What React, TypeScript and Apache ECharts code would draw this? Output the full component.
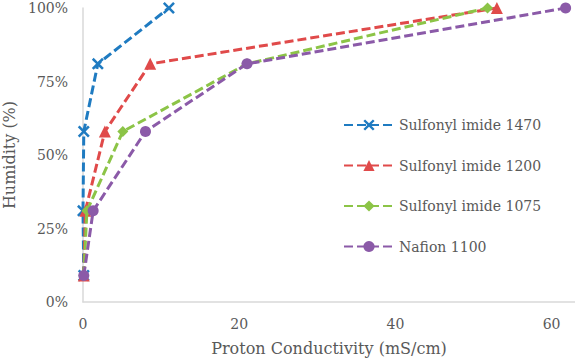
import React, { useEffect, useRef } from "react";
import * as echarts from "echarts";

const seriesNames = ["Sulfonyl imide 1470", "Sulfonyl imide 1200", "Sulfonyl imide 1075", "Nafion 1100"];
const humidity = [9, 31, 58, 81, 100];
const cond1470 = [0.1, 0.0, 0.1, 1.9, 11.0];
const cond1200 = [0.1, 0.3, 2.8, 8.6, 53.0];
const cond1075 = [0.1, 0.5, 5.1, 21.0, 51.8];
const condNafion = [0.1, 1.3, 8.0, 21.0, 61.8];
const colors = ["#1f7bc1", "#e04a4a", "#8cc447", "#8b5aa8"];
const xTicks = [0, 20, 40, 60];

const X_PATH = "path://M0,3 L3,0 L10,7 L17,0 L20,3 L13,10 L20,17 L17,20 L10,13 L3,20 L0,17 L7,10 Z";
const FONT = "DejaVu Serif";
const TXT = "#595959";

export default function App() {
  const ref = useRef<HTMLDivElement>(null);
  useEffect(() => {
    const chart = echarts.init(ref.current!, null, { renderer: "svg" });
    const conds = [cond1470, cond1200, cond1075, condNafion];
    const symbols = [X_PATH, "triangle", "diamond", "circle"];
    const sizes = [12, 12, 11, 11];
    chart.setOption({
      animation: false,
      textStyle: { fontFamily: FONT },
      grid: { left: 83, right: 0, top: 8, bottom: 59, containLabel: false, outerBoundsMode: "none" },
      xAxis: {
        type: "value",
        min: 0,
        max: 63,
        interval: 20,
        splitLine: { show: false },
        axisTick: { show: false },
        axisLine: { lineStyle: { color: "#d9d9d9", width: 1.5 } },
        axisLabel: {
          color: TXT,
          fontFamily: FONT,
          fontSize: 14,
          margin: 15,
          formatter: (v: number) => (xTicks.includes(v) ? String(v) : ""),
        },
        name: "Proton Conductivity (mS/cm)",
        nameLocation: "middle",
        nameGap: 38,
        nameTextStyle: { color: TXT, fontFamily: FONT, fontSize: 16 },
      },
      yAxis: {
        type: "value",
        min: 0,
        max: 100,
        interval: 25,
        splitLine: { show: false },
        axisTick: { show: false },
        axisLine: { show: true, lineStyle: { color: "#d9d9d9", width: 1.5 } },
        axisLabel: { color: TXT, fontFamily: FONT, fontSize: 14, margin: 15, formatter: "{value}%" },
        name: "Humidity (%)",
        nameLocation: "middle",
        nameGap: 60,
        nameTextStyle: { color: TXT, fontFamily: FONT, fontSize: 16 },
      },
      legend: {
        orient: "vertical",
        left: 338,
        top: 113,
        itemWidth: 50,
        itemHeight: 14,
        itemGap: 26.5,
        textStyle: { color: TXT, fontFamily: FONT, fontSize: 14 },
        data: seriesNames,
      },
      series: seriesNames.map((name, i) => ({
        name,
        type: "line",
        data: conds[i].map((c, j) => [c, humidity[j]]),
        symbol: symbols[i],
        symbolSize: sizes[i],
        showAllSymbol: true,
        itemStyle: { color: colors[i] },
        lineStyle: { color: colors[i], width: 3, type: [9, 4] },
        z: 2 + i,
      })),
    });
    return () => chart.dispose();
  }, []);
  return (
    <div
      ref={ref}
      style={{ position: "fixed", left: 0, top: 0, width: 575, height: 361, background: "#fff" }}
    />
  );
}
